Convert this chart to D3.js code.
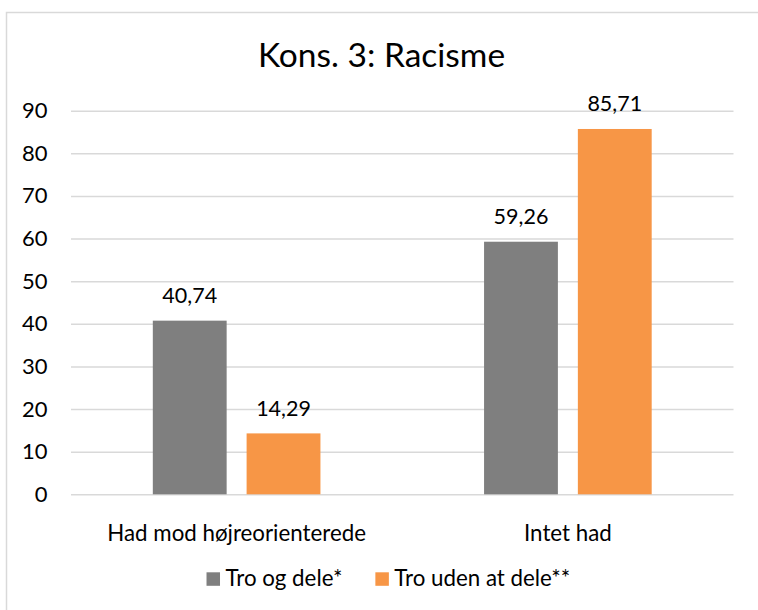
<!DOCTYPE html>
<html>
<head>
<meta charset="utf-8">
<script src="https://cdn.jsdelivr.net/npm/d3@7"></script>
<style>
  html, body { margin: 0; padding: 0; background: #fff; }
  svg { display: block; }
  text { font-family: Lato, "Open Sans", sans-serif; fill: #000; }
</style>
</head>
<body>
<svg id="chart" width="758" height="610"></svg>
<script>
const title = "Kons. 3: Racisme";
const categories = ["Had mod højreorienterede", "Intet had"];
const seriesNames = ["Tro og dele*", "Tro uden at dele**"];
const seriesColors = ["#7f7f7f", "#f79646"];
const seriesTroOgDele = [40.74, 59.26];
const seriesTroUdenAtDele = [14.29, 85.71];
const yTicks = [0, 10, 20, 30, 40, 50, 60, 70, 80, 90];

const seriesValues = [seriesTroOgDele, seriesTroUdenAtDele];
const fmt = v => d3.format(".2f")(v).replace(".", ",");

const svg = d3.select("#chart");
const W = 758, H = 610;
const plot = { left: 71, right: 733.5, top: 110.7, bottom: 494.3 };

// chart border
svg.append("rect")
  .attr("x", 6.5).attr("y", 12.5)
  .attr("width", W + 20).attr("height", H + 20)
  .attr("fill", "#fff").attr("stroke", "#d9d9d9").attr("stroke-width", 1.5);

const y = d3.scaleLinear().domain([0, 90]).range([plot.bottom, plot.top]);
const x0 = d3.scaleBand().domain(categories).range([plot.left, plot.right]).padding(0);
const x1 = d3.scaleBand().domain(seriesNames).range([0, x0.bandwidth()])
  .paddingInner(0.2128).paddingOuter(0.8723);

// gridlines
const yAxis = d3.axisLeft(y).tickValues(yTicks).tickSize(-(plot.right - plot.left)).tickPadding(23.5)
  .tickFormat(d3.format("d"));
const gy = svg.append("g").attr("transform", `translate(${plot.left},0)`).call(yAxis);
gy.select(".domain").remove();
gy.selectAll(".tick line").attr("stroke", "#d9d9d9").attr("stroke-width", 1.6);
gy.selectAll(".tick text").attr("font-size", 22).attr("font-family", "Lato").attr("fill", "#000");

// bars
const groups = svg.append("g").selectAll("g").data(categories).join("g")
  .attr("transform", d => `translate(${x0(d)},0)`);
groups.selectAll("rect").data((c, i) => seriesNames.map((s, j) => ({ s, j, v: seriesValues[j][i] })))
  .join("rect")
  .attr("x", d => x1(d.s)).attr("width", x1.bandwidth())
  .attr("y", d => y(d.v)).attr("height", d => y(0) - y(d.v))
  .attr("fill", d => seriesColors[d.j]);

groups.selectAll("text.val").data((c, i) => seriesNames.map((s, j) => ({ s, j, v: seriesValues[j][i] })))
  .join("text").attr("class", "val")
  .attr("x", d => x1(d.s) + x1.bandwidth() / 2)
  .attr("y", d => y(d.v) - 17.6)
  .attr("text-anchor", "middle").attr("font-size", 21.5)
  .text(d => fmt(d.v));

// category axis labels
const xAxis = d3.axisBottom(x0).tickSize(0).tickPadding(0);
const gx = svg.append("g").attr("transform", `translate(0,${plot.bottom})`).call(xAxis);
gx.select(".domain").remove();
gx.selectAll(".tick text").attr("font-size", 22.3).attr("font-family", "Lato").attr("fill", "#000")
  .attr("dy", null).attr("y", 46.5);

// title
svg.append("text").attr("x", 381.5).attr("y", 67.3).attr("text-anchor", "middle")
  .attr("font-size", 33.5).text(title);

// legend
const legend = svg.append("g");
const items = legend.selectAll("g").data(seriesNames).join("g");
items.append("rect").attr("width", 13.5).attr("height", 13.5).attr("y", 572.3)
  .attr("fill", (d, i) => seriesColors[i]);
items.append("text").attr("x", 19).attr("y", 585.7).attr("font-size", 22.3).text(d => d);
const widths = [];
items.each(function () { widths.push(this.getBBox().width); });
const gap = 33;
const total = d3.sum(widths) + gap * (widths.length - 1);
let start = 388.4 - total / 2;
items.attr("transform", (d, i) => {
  const t = `translate(${start},0)`;
  start += widths[i] + gap;
  return t;
});
</script>
</body>
</html>
